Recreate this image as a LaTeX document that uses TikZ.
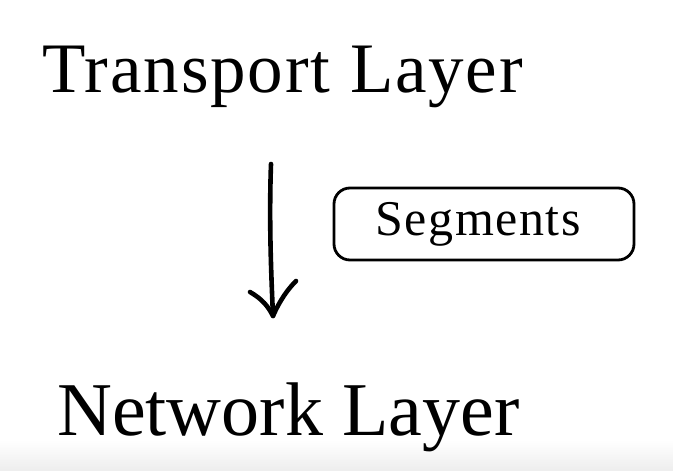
\documentclass[tikz,border=0pt]{standalone}
\usepackage{fontspec}
\setmainfont{Liberation Serif}
\usetikzlibrary{calc}
\begin{document}
\begin{tikzpicture}[x=1pt,y=-1pt,
  layertext/.style={inner sep=0pt,anchor=base west},
  labelbox/.style={draw,line width=2.8pt,rounded corners=16pt,minimum width=300pt,minimum height=72pt,inner sep=0pt},
  handline/.style={line width=4.6pt,line cap=round,line join=round}]
\useasboundingbox (0,0) rectangle (673,471);
\fill[white] (0,0) rectangle (673,471);
\shade[top color=white,bottom color=black!7] (0,440) rectangle (673,471);
\node[layertext,font=\fontsize{71}{75}\selectfont\addfontfeature{LetterSpace=2.6}] (transport) at (42,92) {Transport Layer};
\node[layertext,font=\fontsize{76}{80}\selectfont] (network) at (57,435) {Network Layer};
\node[labelbox] (segments) at (484,224) {};
\node[inner sep=0pt,anchor=base,font=\fontsize{50}{54}\selectfont\addfontfeature{LetterSpace=3}] (segtext) at (478,235) {Segments};
\coordinate (arrowtop) at (271,164);
\coordinate (arrowtip) at (273,316);
\coordinate (wingl) at (250,292);
\coordinate (wingr) at (296,281);
\draw[handline] (arrowtop) .. controls (269,220) and (271,270) .. (arrowtip);
\draw[handline] (wingl) .. controls (262,299) and (268,306) .. (arrowtip) .. controls (280,300) and (288,289) .. (wingr);
\end{tikzpicture}
\end{document}
